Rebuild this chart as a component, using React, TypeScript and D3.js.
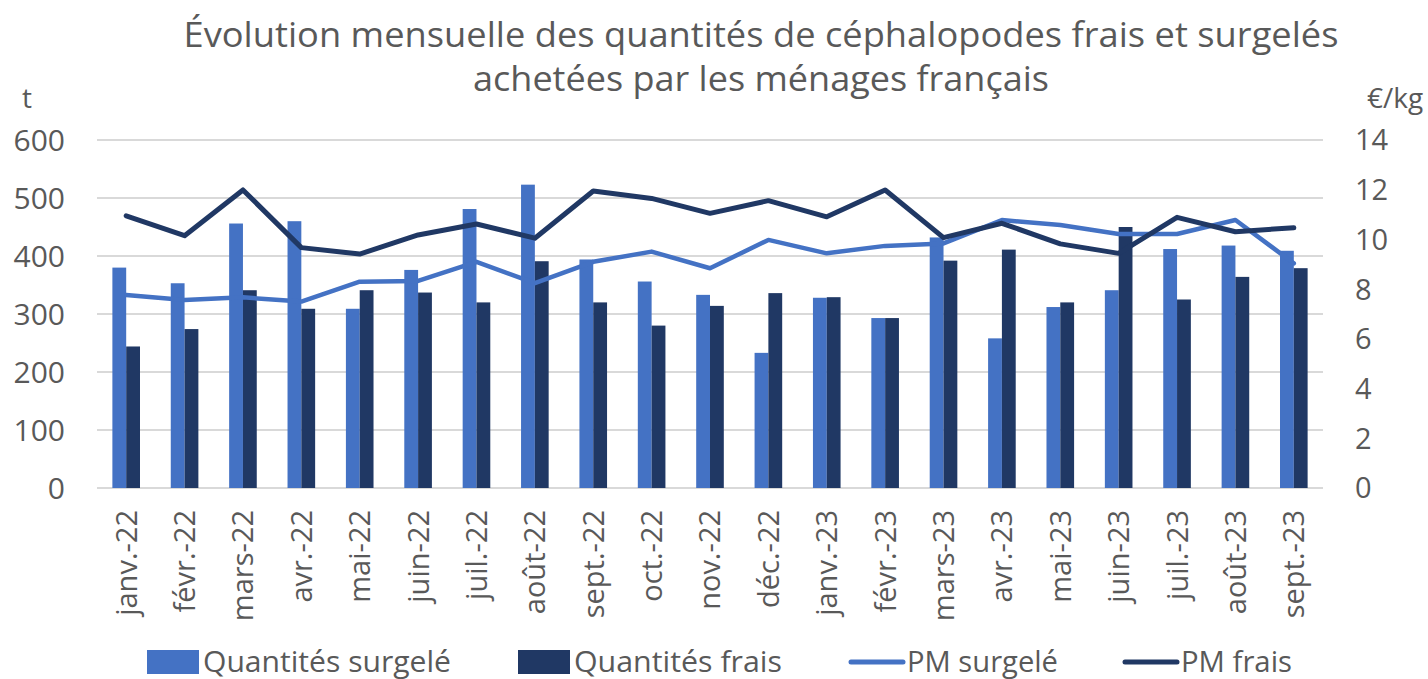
import React from "react";
import * as d3 from "d3";

const categories = [
  "janv.-22", "févr.-22", "mars-22", "avr.-22", "mai-22", "juin-22", "juil.-22", "août-22",
  "sept.-22", "oct.-22", "nov.-22", "déc.-22", "janv.-23", "févr.-23", "mars-23", "avr.-23",
  "mai-23", "juin-23", "juil.-23", "août-23", "sept.-23",
];
const qtySurgele = [380, 353, 456, 460, 309, 376, 481, 523, 394, 356, 333, 233, 328, 293, 432, 258, 312, 341, 412, 418, 409];
const qtyFrais = [244, 274, 341, 309, 341, 337, 320, 391, 320, 280, 314, 336, 329, 293, 392, 411, 320, 450, 325, 364, 379];
const pmSurgele = [7.76, 7.56, 7.67, 7.5, 8.3, 8.33, 9.1, 8.24, 9.1, 9.51, 8.84, 9.98, 9.44, 9.74, 9.84, 10.78, 10.58, 10.22, 10.22, 10.78, 9.04];
const pmFrais = [10.95, 10.15, 11.99, 9.67, 9.41, 10.18, 10.62, 10.05, 11.95, 11.65, 11.05, 11.56, 10.91, 11.99, 10.07, 10.65, 9.82, 9.44, 10.89, 10.31, 10.47];
const leftTicks = [0, 100, 200, 300, 400, 500, 600];
const rightTicks = [0, 2, 4, 6, 8, 10, 12, 14];
const titleLines = [
  "Évolution mensuelle des quantités de céphalopodes frais et surgelés",
  "achetées par les ménages français",
];
const legendItems = [
  { label: "Quantités surgelé", kind: "bar", color: "#4472C4" },
  { label: "Quantités frais", kind: "bar", color: "#203864" },
  { label: "PM surgelé", kind: "line", color: "#4472C4" },
  { label: "PM frais", kind: "line", color: "#203864" },
];

const W = 1428;
const H = 679;
const FONT = "'Open Sans', Lato, sans-serif";
const TXT = "#595959";
const LIGHT = "#4472C4";
const DARK = "#203864";

export default function App() {
  const left = 97;
  const right = 1323;
  const top = 140;
  const bottom = 488;

  const x = d3.scaleBand<string>().domain(categories).range([left, right]).paddingInner(0.527).paddingOuter(0.2635);
  const x1 = d3.scaleBand<string>().domain(["s", "f"]).range([0, x.bandwidth()]);
  const yL = d3.scaleLinear().domain([0, 600]).range([bottom, top]);
  const yR = d3.scaleLinear().domain([0, 14]).range([bottom, top]);
  const cx = (c: string) => (x(c) as number) + x.bandwidth() / 2;

  const lineS = d3.line<number>().x((_, i) => cx(categories[i])).y((d) => yR(d));

  const legendX = [147, 518, 849, 1123];
  const legendW = [248, 208, 151, 111];
  const titleW = [1155, 576];

  return (
    <svg width={W} height={H} style={{ position: "absolute", left: 0, top: 0, background: "#fff" }} fontFamily={FONT}>
      {titleLines.map((t, i) => (
        <text key={i} x={761} y={47 + i * 44} textAnchor="middle" fontSize={34} fill={TXT}
          textLength={titleW[i]} lengthAdjust="spacingAndGlyphs">{t}</text>
      ))}
      <text x={27} y={108} fontSize={28} fill={TXT} textAnchor="middle">t</text>
      <text x={1395} y={108} fontSize={28} fill={TXT} textAnchor="middle">€/kg</text>
      {leftTicks.map((t) => (
        <g key={t}>
          <line x1={left} x2={right} y1={yL(t)} y2={yL(t)} stroke="#D9D9D9" strokeWidth={2} />
          <text x={65} y={yL(t)} dy="0.36em" textAnchor="end" fontSize={30} fill={TXT}>{t}</text>
        </g>
      ))}
      {rightTicks.map((t) => (
        <text key={t} x={1355} y={yR(t)} dy="0.36em" textAnchor="start" fontSize={29} fill={TXT}>{t}</text>
      ))}
      {categories.map((c, i) => (
        <g key={c}>
          <rect x={(x(c) as number) + (x1("s") as number)} y={yL(qtySurgele[i])} width={x1.bandwidth()} height={yL(0) - yL(qtySurgele[i])} fill={LIGHT} />
          <rect x={(x(c) as number) + (x1("f") as number)} y={yL(qtyFrais[i])} width={x1.bandwidth()} height={yL(0) - yL(qtyFrais[i])} fill={DARK} />
          <text transform={`translate(${cx(c)},510) rotate(-90)`} dy="0.36em" textAnchor="end" fontSize={29} fill={TXT}>{c}</text>
        </g>
      ))}
      <path d={lineS(pmSurgele) as string} fill="none" stroke={LIGHT} strokeWidth={4.5} strokeLinejoin="round" strokeLinecap="round" />
      <path d={lineS(pmFrais) as string} fill="none" stroke={DARK} strokeWidth={5} strokeLinejoin="round" strokeLinecap="round" />
      {legendItems.map((it, i) => (
        <g key={it.label} transform={`translate(${legendX[i]},662)`}>
          {it.kind === "bar" ? (
            <rect x={0} y={-12} width={52} height={24} fill={it.color} />
          ) : (
            <line x1={2} x2={54} y1={0} y2={0} stroke={it.color} strokeWidth={5} strokeLinecap="round" />
          )}
          <text x={it.kind === "bar" ? 56 : 58} y={0} dy="0.36em" fontSize={29} fill={TXT}
            textLength={legendW[i]} lengthAdjust="spacingAndGlyphs">{it.label}</text>
        </g>
      ))}
    </svg>
  );
}
